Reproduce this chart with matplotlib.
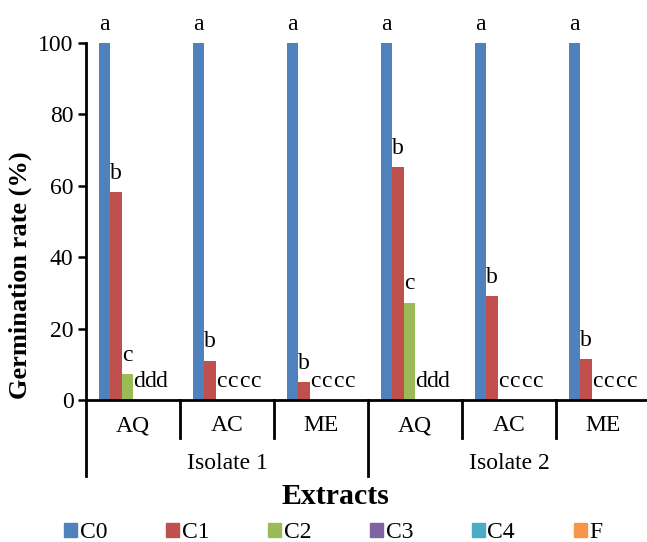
import matplotlib
matplotlib.use("Agg")
import matplotlib.pyplot as plt
import matplotlib.transforms as mtransforms
from matplotlib.patches import Patch
import numpy as np

plt.rcParams['font.family'] = ['Liberation Serif', 'DejaVu Serif']

# data
extracts = ["AQ", "AC", "ME", "AQ", "AC", "ME"]
isolates = ["Isolate 1", "Isolate 2"]
series = ["C0", "C1", "C2", "C3", "C4", "F"]
colors = ["#4F81BD", "#C0504D", "#9BBB59", "#8064A2", "#4BACC6", "#F79646"]

C0 = [100, 100, 100, 100, 100, 100]
C1 = [58.3, 11, 5, 65.3, 29, 11.4]
C2 = [7.3, 0, 0, 27.3, 0, 0]
C3 = [0, 0, 0, 0, 0, 0]
C4 = [0, 0, 0, 0, 0, 0]
F = [0, 0, 0, 0, 0, 0]
values = [C0, C1, C2, C3, C4, F]

letters = [
    ["a", "a", "a", "a", "a", "a"],
    ["b", "b", "b", "b", "b", "b"],
    ["c", "c", "c", "c", "c", "c"],
    ["d", "c", "c", "d", "c", "c"],
    ["d", "c", "c", "d", "c", "c"],
    ["d", "c", "c", "d", "c", "c"],
]

fs = 17

fig = plt.figure(figsize=(6.47, 5.42), dpi=100)
ax = fig.add_axes([0.1329, 0.262, 0.8717, 0.6587])

x = np.arange(len(extracts))
w = 0.12
for i, (name, vals) in enumerate(zip(series, values)):
    pos = x + (i - 2.5) * w
    ax.bar(pos, vals, width=w, color=colors[i], label=name)
    for p, v, lab in zip(pos, vals, letters[i]):
        ax.annotate(lab, (p, v), xytext=(0, 6), textcoords="offset points",
                    ha="center", va="bottom", fontsize=fs, annotation_clip=False)

ax.set_xlim(-0.5, 5.5)
ax.set_ylim(0, 100)
ax.set_yticks([0, 20, 40, 60, 80, 100])
ax.tick_params(axis="y", labelsize=fs, width=1.8, length=6, direction="out", pad=3)
ax.set_xticks([])
for s in ["top", "right"]:
    ax.spines[s].set_visible(False)
ax.spines["left"].set_linewidth(2)
ax.spines["bottom"].set_linewidth(2)
ax.set_ylabel("Germination rate (%)", fontsize=19, fontweight="bold")
ax.yaxis.set_label_coords(-0.095, 0.35)

# two-level category axis
trans = mtransforms.blended_transform_factory(ax.transData, ax.transAxes)
for k in range(len(extracts) + 1):
    xs = k - 0.5
    bottom = -0.2129 if k % 3 == 0 else -0.1064
    ax.plot([xs, xs], [0, bottom], color="black", lw=2, transform=trans, clip_on=False)
for k, lab in enumerate(extracts):
    ax.text(k, -0.0728, lab, transform=trans, ha="center", va="center", fontsize=fs)
for j, lab in enumerate(isolates):
    ax.text(3 * j + 1, -0.1765, lab, transform=trans, ha="center", va="center", fontsize=fs)

fig.text(0.518, 1 - 497 / 542, "Extracts", ha="center", va="center",
         fontsize=21.5, fontweight="bold")

handles = [Patch(color=c, label=n) for c, n in zip(colors, series)]
fig.legend(handles=handles, loc="center left", bbox_to_anchor=(0.099, 1 - 533 / 542),
           ncol=6, frameon=False, fontsize=fs, handlelength=0.55, handleheight=0.55,
           handletextpad=0.12, columnspacing=2.48, borderpad=0, borderaxespad=0)

fig.savefig("out.png", dpi=100)
